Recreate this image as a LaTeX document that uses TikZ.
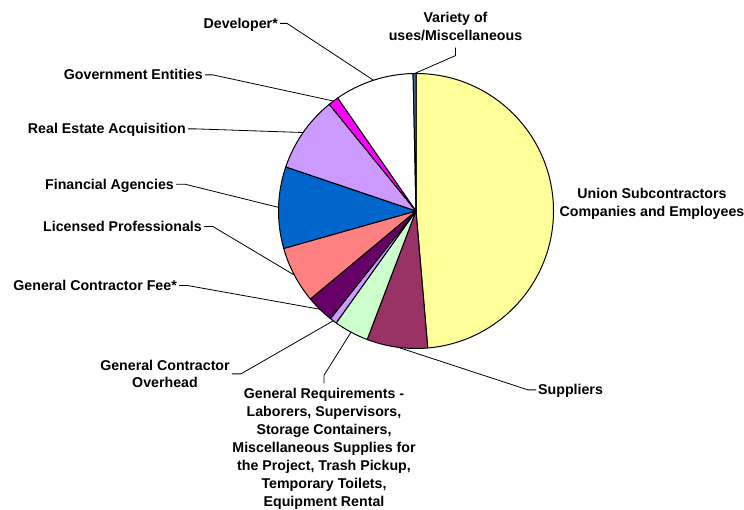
\documentclass[tikz,border=0pt]{standalone}
\usepackage{fontspec}
\setmainfont{Liberation Sans}
\definecolor{cUnion}{HTML}{FFFF99}
\definecolor{cSup}{HTML}{993366}
\definecolor{cGen}{HTML}{CCFFCC}
\definecolor{cGcoh}{HTML}{CC99FF}
\definecolor{cFee}{HTML}{660066}
\definecolor{cLic}{HTML}{FF8080}
\definecolor{cFin}{HTML}{0066CC}
\definecolor{cRea}{HTML}{CC99FF}
\definecolor{cGov}{HTML}{FF00FF}
\definecolor{cDev}{HTML}{FFFFFF}
\definecolor{cVar}{HTML}{4F6F8F}
\begin{document}
\begin{tikzpicture}[x=1pt,y=1pt,
  slice/.style={draw=black, line width=1pt, line join=round},
  lbl/.style={font=\fontsize{14.2}{17.9}\selectfont\bfseries, inner sep=2pt, text height=10.2pt, text depth=0pt},
  mlbl/.style={font=\fontsize{14.2}{17.9}\selectfont\bfseries, inner sep=2pt, align=center},
  leader/.style={draw=black, line width=0.8pt}]
\useasboundingbox (0,0) rectangle (744,510);
\def\R{137.5}
\coordinate (c) at (416,299);
% slices
\foreach \a/\b/\col in {90/-85.1/cUnion, -85.1/-110.8/cSup, -110.8/-125.5/cGen,
  -125.5/-128.5/cGcoh, -128.5/-140.2/cFee, -140.2/-164.2/cLic, -164.2/-198.7/cFin,
  -198.7/-230.9/cRea, -230.9/-235.3/cGov, -235.3/-268.8/cDev, -268.8/-270/cVar}
  \filldraw[slice, fill=\col] (c) -- ++(\a:\R) arc[start angle=\a, end angle=\b, radius=\R] -- cycle;
% leader end points (slice midpoints)
\path (c) ++(108:\R) coordinate (pdev);
\path (c) ++(126.9:\R) coordinate (pgov);
\path (c) ++(145.2:\R) coordinate (prea);
\path (c) ++(178.5:\R) coordinate (pfin);
\path (c) ++(207.8:\R) coordinate (plic);
\path (c) ++(225.6:\R) coordinate (pfee);
\path (c) ++(233:\R) coordinate (pgcoh);
\path (c) ++(241.8:\R) coordinate (pgen);
\path (c) ++(262.5:\R) coordinate (psup);
\path (c) ++(90.6:\R) coordinate (pvar);
% labels
\node[lbl, anchor=base east] (dev) at (280,481.5) {Developer*};
\node[lbl, anchor=base east] (gov) at (205,430) {Government Entities};
\node[lbl, anchor=base east] (rea) at (188,376) {Real Estate Acquisition};
\node[lbl, anchor=base east] (fin) at (176,320.7) {Financial Agencies};
\node[lbl, anchor=base east] (lic) at (204,278.3) {Licensed Professionals};
\node[lbl, anchor=base east] (fee) at (179,219.3) {General Contractor Fee*};
\node[lbl, anchor=base west] (sup) at (536,115) {Suppliers};
\node[mlbl] (gcoh) at (165,136.1) {General Contractor\\Overhead};
\node[mlbl] (gen) at (324,61.2) {General Requirements -\\Laborers, Supervisors,\\Storage Containers,\\Miscellaneous Supplies for\\the Project, Trash Pickup,\\Temporary Toilets,\\Equipment Rental};
\node[mlbl] (uni) at (652,306.5) {Union Subcontractors\\Companies and Employees};
\node[mlbl] (var) at (455.5,483.8) {Variety of\\uses/Miscellaneous};
% leaders
\draw[leader] (dev.east) -- ++(7,0) -- (pdev);
\draw[leader] (gov.east) -- ++(8,0) -- (pgov);
\draw[leader] (rea.east) -- ++(8,0) -- (prea);
\draw[leader] (fin.east) -- ++(9,0) -- (pfin);
\draw[leader] (lic.east) -- ++(9,0) -- (plic);
\draw[leader] (fee.east) -- ++(9,0) -- (pfee);
\draw[leader] (gcoh.east) -- ++(9,0) -- (pgcoh);
\draw[leader] ([yshift=3]gen.north) -- ++(0,8) -- (pgen);
\draw[leader] (sup.west) -- ++(-8,0) -- (psup);
\draw[leader] ([yshift=-5]var.south) -- ++(0,-8) -- (pvar);
\end{tikzpicture}
\end{document}
